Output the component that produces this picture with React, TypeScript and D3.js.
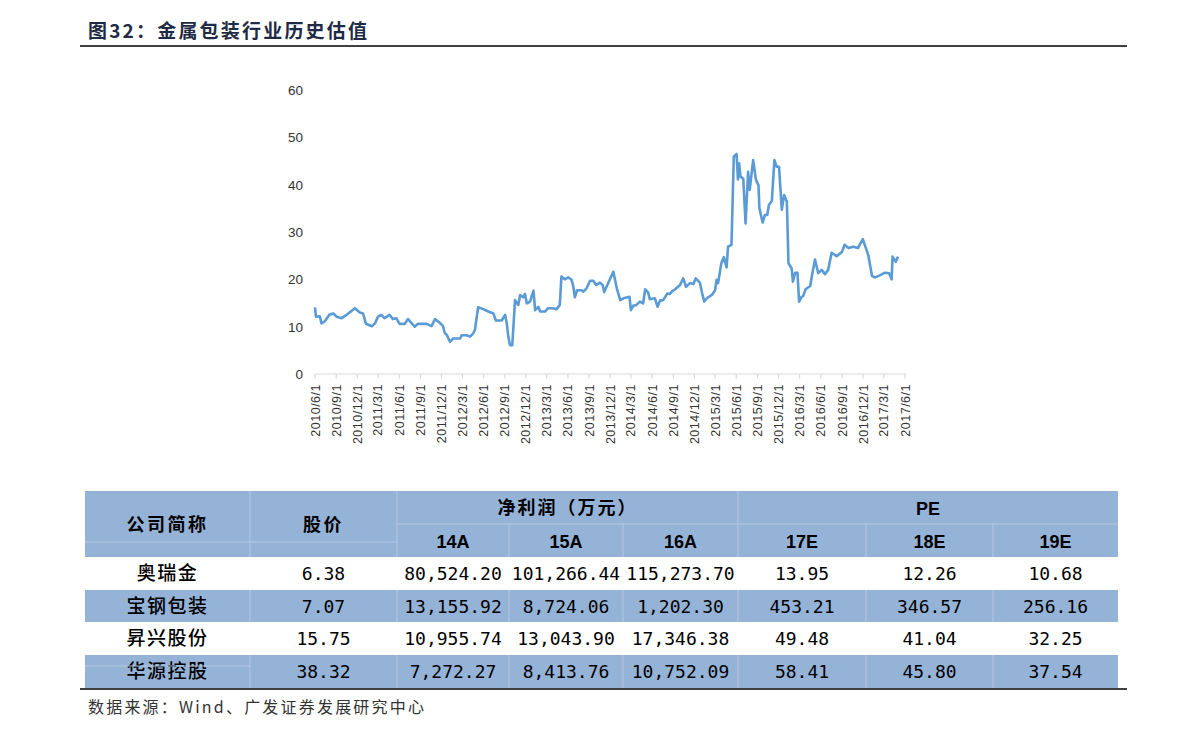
import React from 'react';
import { scaleLinear, scaleTime, timeParse, timeFormat, timeMonth, line, format, range } from 'd3';

// PE (TTM) history of the metal packaging sector
const peDates = ["2010-06-01","2010-06-05","2010-06-22","2010-06-29","2010-07-13","2010-08-02","2010-08-19","2010-09-03","2010-09-24","2010-10-16","2010-11-21","2010-12-12","2010-12-26","2011-01-08","2011-02-02","2011-02-16","2011-03-01","2011-03-15","2011-03-29","2011-04-20","2011-05-05","2011-05-19","2011-06-03","2011-06-25","2011-07-09","2011-08-07","2011-08-21","2011-09-27","2011-10-19","2011-11-03","2011-11-24","2011-12-08","2011-12-15","2011-12-25","2012-01-07","2012-01-21","2012-02-20","2012-02-27","2012-03-19","2012-04-03","2012-04-17","2012-04-24","2012-05-08","2012-05-30","2012-06-21","2012-07-13","2012-07-24","2012-08-18","2012-09-02","2012-09-09","2012-09-16","2012-09-23","2012-10-03","2012-10-15","2012-10-29","2012-11-06","2012-11-20","2012-11-27","2012-12-05","2012-12-19","2013-01-03","2013-01-10","2013-01-24","2013-02-01","2013-02-22","2013-03-07","2013-03-28","2013-04-13","2013-04-27","2013-05-04","2013-05-18","2013-06-03","2013-06-17","2013-06-24","2013-07-01","2013-07-11","2013-07-30","2013-08-07","2013-08-21","2013-09-05","2013-09-19","2013-10-01","2013-10-18","2013-10-30","2013-11-05","2013-11-19","2013-12-15","2013-12-30","2014-01-14","2014-01-28","2014-02-23","2014-03-01","2014-03-11","2014-03-25","2014-04-09","2014-04-23","2014-05-02","2014-05-15","2014-05-22","2014-06-13","2014-06-25","2014-07-05","2014-07-19","2014-08-06","2014-08-17","2014-08-25","2014-09-09","2014-09-30","2014-10-14","2014-10-26","2014-11-12","2014-11-27","2014-12-07","2014-12-25","2015-01-03","2015-01-13","2015-01-24","2015-02-15","2015-03-01","2015-03-07","2015-03-14","2015-03-28","2015-04-08","2015-04-20","2015-04-26","2015-05-11","2015-05-21","2015-06-02","2015-06-08","2015-06-13","2015-06-19","2015-07-01","2015-07-11","2015-07-22","2015-07-29","2015-08-13","2015-08-25","2015-09-05","2015-09-09","2015-09-23","2015-10-03","2015-10-13","2015-10-20","2015-11-02","2015-11-13","2015-11-23","2015-12-03","2015-12-15","2015-12-25","2016-01-06","2016-01-13","2016-01-27","2016-02-01","2016-02-11","2016-02-21","2016-02-28","2016-03-10","2016-03-17","2016-03-27","2016-04-16","2016-04-26","2016-05-07","2016-05-21","2016-06-05","2016-06-19","2016-07-03","2016-07-18","2016-08-09","2016-09-01","2016-09-12","2016-09-29","2016-10-20","2016-11-09","2016-11-30","2016-12-24","2017-01-09","2017-01-23","2017-02-14","2017-03-06","2017-03-24","2017-04-04","2017-04-08","2017-04-22","2017-05-02"];
const peValues = [14.1,12.1,12.2,10.7,11.1,12.5,12.8,12.1,11.8,12.5,13.9,13.0,12.8,10.6,10.1,10.7,12.1,12.5,11.8,12.5,11.6,11.8,10.6,10.6,11.6,10.0,10.6,10.6,10.1,11.6,10.8,10.1,8.7,8.2,6.8,7.5,7.5,8.2,8.2,7.9,8.6,9.3,14.1,13.7,13.2,12.8,11.3,11.3,12.5,10.7,7.9,6.1,6.1,15.6,14.6,16.7,16.2,16.9,14.9,15.3,17.6,13.5,14.2,13.2,13.2,13.9,13.9,13.7,14.6,20.6,20.0,20.4,19.9,18.6,16.2,17.7,17.7,17.4,18.1,19.7,19.7,18.8,19.3,18.8,17.3,18.8,21.6,18.1,15.6,16.0,16.3,13.5,14.4,14.6,15.3,14.9,17.9,17.2,15.8,16.0,14.2,15.5,15.6,17.0,16.9,17.4,17.9,18.8,20.2,18.4,19.2,19.0,20.2,19.3,17.2,15.3,16.0,16.7,17.7,19.9,19.2,23.4,24.7,22.5,26.9,27.3,45.9,46.5,41.1,44.5,41.7,41.3,31.8,42.7,38.9,45.2,41.0,39.9,35.0,32.0,33.6,33.6,35.7,36.6,45.2,43.8,43.8,34.7,37.8,36.4,23.4,22.3,19.5,21.4,21.4,15.3,16.3,16.5,17.9,18.6,21.4,24.2,21.3,22.0,21.1,22.0,25.6,24.9,25.8,27.3,26.6,26.9,26.6,28.5,25.1,20.7,20.4,20.9,21.4,21.3,20.0,24.8,23.7,24.8];
const yTicks = [0, 10, 20, 30, 40, 50, 60];

// table
const companies = ['奥瑞金', '宝钢包装', '昇兴股份', '华源控股'];
const prices = [6.38, 7.07, 15.75, 38.32];
const profit14A = [80524.20, 13155.92, 10955.74, 7272.27];
const profit15A = [101266.44, 8724.06, 13043.90, 8413.76];
const profit16A = [115273.70, 1202.30, 17346.38, 10752.09];
const pe17E = [13.95, 453.21, 49.48, 58.41];
const pe18E = [12.26, 346.57, 41.04, 45.80];
const pe19E = [10.68, 256.16, 32.25, 37.54];
const profitYears = ['14A', '15A', '16A'];
const peYears = ['17E', '18E', '19E'];

const W = 1191;
const H = 737;
const blue = '#95b3d7';
const sep = '#b3c8e2';
const cjk = '"Noto Sans CJK SC", sans-serif';
const mono = '"DejaVu Sans Mono", monospace';
const narrow = '"Liberation Sans Narrow", "Arial Narrow", "Liberation Sans", sans-serif';

const parse = timeParse('%Y-%m-%d');
const fmtTick = timeFormat('%Y/%-m/%-d');
const fmtNum = format(',.2f');

export default function App() {
  const x = scaleTime()
    .domain([parse('2010-06-01')!, parse('2017-06-01')!])
    .range([315, 905]);
  const y = scaleLinear().domain([0, 60]).range([374, 90]);
  const xTicks = timeMonth.range(parse('2010-06-01')!, parse('2017-06-02')!, 3);

  const pts = peDates.map((d, i) => ({ date: parse(d)!, v: peValues[i] })).filter(p => p.v != null);
  const path = line<{ date: Date; v: number }>()
    .x(d => x(d.date))
    .y(d => y(d.v))(pts);

  // table geometry
  const colX = [85, 250, 397, 509, 623, 738, 866, 993, 1118];
  const rowY = [491, 524, 557, 590, 622, 655, 688];
  const cx = (i: number) => (colX[i] + colX[i + 1]) / 2;
  const cols = [profit14A, profit15A, profit16A, pe17E, pe18E, pe19E];

  return (
    <svg width={W} height={H} style={{ position: 'absolute', left: 0, top: 0, background: '#fff' }}>
      {/* title */}
      <text x={88} y={38} fontFamily={cjk} fontWeight={700} fontSize={19} fill="#1f2a44" letterSpacing={2.2}>
        图32：金属包装行业历史估值
      </text>
      <line x1={80} x2={1127} y1={46} y2={46} stroke="#000" strokeWidth={1.5} />

      {/* y axis labels */}
      {yTicks.map(t => (
        <text key={t} x={303} y={y(t) + 5} textAnchor="end" fontFamily='"Liberation Sans", Arial, sans-serif' fontSize={13.5} fill="#333">
          {t}
        </text>
      ))}

      {/* x axis */}
      <line x1={315} x2={906} y1={374} y2={374} stroke="#d9d9d9" strokeWidth={1.2} />
      {xTicks.map((t, i) => (
        <g key={i}>
          <line x1={x(t)} x2={x(t)} y1={374} y2={378.5} stroke="#d9d9d9" strokeWidth={1.2} />
          <text
            transform={`translate(${x(t) + 4.5},${384}) rotate(-90)`}
            textAnchor="end"
            fontFamily='"Liberation Sans", Arial, sans-serif'
            fontSize={12.5}
            letterSpacing={0.5}
            fill="#333"
          >
            {fmtTick(t)}
          </text>
        </g>
      ))}

      {/* series */}
      <path d={path ?? ''} fill="none" stroke="#5b9bd5" strokeWidth={2.6} strokeLinejoin="round" />

      {/* table header */}
      <rect x={colX[0]} y={rowY[0]} width={colX[8] - colX[0]} height={rowY[2] - rowY[0]} fill={blue} />
      <line x1={colX[2]} x2={colX[8]} y1={rowY[1]} y2={rowY[1]} stroke={sep} />
      <line x1={colX[0]} x2={colX[2]} y1={542} y2={542} stroke={sep} />
      {[1, 2, 5].map(i => (
        <line key={i} x1={colX[i]} x2={colX[i]} y1={rowY[0]} y2={rowY[2]} stroke={sep} />
      ))}
      {[3, 4, 6, 7].map(i => (
        <line key={i} x1={colX[i]} x2={colX[i]} y1={rowY[1]} y2={rowY[2]} stroke={sep} />
      ))}
      <text x={cx(0)} y={531} textAnchor="middle" fontFamily={cjk} fontWeight={700} fontSize={18} letterSpacing={2.5}>公司简称</text>
      <text x={cx(1)} y={531} textAnchor="middle" fontFamily={cjk} fontWeight={700} fontSize={18} letterSpacing={2.5}>股价</text>
      <text x={(colX[2] + colX[5]) / 2} y={514} textAnchor="middle" fontFamily={cjk} fontWeight={700} fontSize={18} letterSpacing={2}>净利润（万元）</text>
      <text x={(colX[5] + colX[8]) / 2} y={515} textAnchor="middle" fontFamily={narrow} fontWeight={700} fontSize={18}>PE</text>
      {[...profitYears, ...peYears].map((lab, i) => (
        <text key={lab} x={cx(i + 2)} y={548} textAnchor="middle" fontFamily={narrow} fontWeight={700} fontSize={18}>{lab}</text>
      ))}

      {/* table body */}
      {companies.map((c, r) => {
        const top = rowY[r + 2];
        const bottom = rowY[r + 3];
        const mid = (top + bottom) / 2;
        const shaded = r % 2 === 1;
        return (
          <g key={c}>
            {shaded && <rect x={colX[0]} y={top} width={colX[8] - colX[0]} height={bottom - top} fill={blue} />}
            {shaded && range(1, 8).map(i => (
              <line key={i} x1={colX[i]} x2={colX[i]} y1={top} y2={bottom} stroke={sep} />
            ))}
            <text x={cx(0)} y={mid + 6.5} textAnchor="middle" fontFamily={cjk} fontWeight={500} fontSize={19} letterSpacing={1.5}>{c}</text>
            <text x={cx(1)} y={mid + 6.5} textAnchor="middle" fontFamily={mono} fontSize={18}>{fmtNum(prices[r])}</text>
            {cols.map((col, j) => (
              <text key={j} x={cx(j + 2)} y={mid + 6.5} textAnchor="middle" fontFamily={mono} fontSize={18}>{fmtNum(col[r])}</text>
            ))}
          </g>
        );
      })}
      <line x1={colX[0]} x2={colX[1]} y1={666} y2={666} stroke={sep} />
      <line x1={80} x2={1127} y1={689} y2={689} stroke="#000" strokeWidth={1.5} />

      {/* source */}
      <text x={88} y={713} fontFamily={cjk} fontSize={16} fill="#333" letterSpacing={2.2}>
        数据来源：Wind、广发证券发展研究中心
      </text>
    </svg>
  );
}
